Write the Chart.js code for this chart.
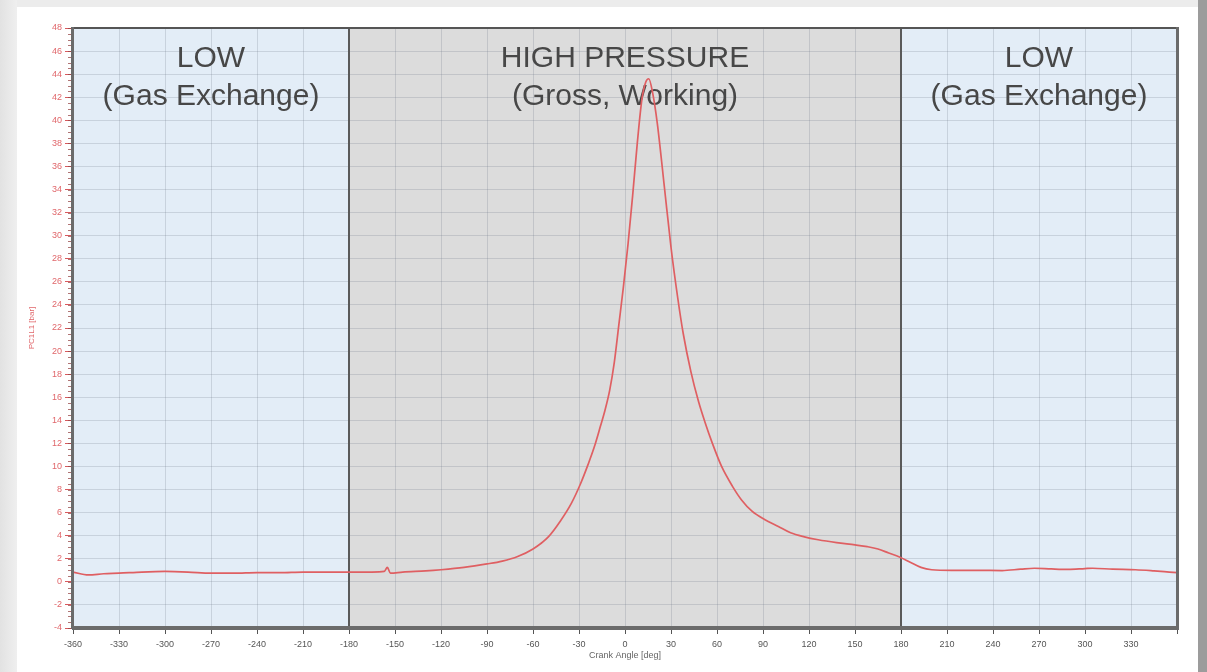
<!DOCTYPE html>
<html>
<head>
<meta charset="utf-8">
<script src="https://cdn.jsdelivr.net/npm/chart.js@4.4.1/dist/chart.umd.min.js"></script>
<style>
  html, body { margin: 0; padding: 0; width: 1207px; height: 672px; overflow: hidden; background: #ececec; }
  #leftstrip { position: absolute; left: 0; top: 0; width: 17px; height: 672px; background: linear-gradient(to right, #e2e2e2, #efefef); }
  #card { position: absolute; left: 17px; top: 7px; width: 1181px; height: 665px; background: #ffffff; }
  #rightstrip { position: absolute; left: 1198px; top: 0; width: 9px; height: 672px; background: #9c9c9c; }
  #wrap { position: absolute; left: 0; top: 0; width: 1207px; height: 672px; }
</style>
</head>
<body>
<div id="leftstrip"></div>
<div id="card"></div>
<div id="rightstrip"></div>
<div id="wrap"><canvas id="c" width="1207" height="672"></canvas></div>
<script>
// ---- data ----
const angles = [-360, -350, -340, -330, -315, -300, -285, -270, -255, -240, -225, -210, -195, -180,
  -165, -157, -155, -153, -145, -130, -120, -105, -90, -80, -70, -60, -50, -42, -35, -29, -24, -20,
  -16, -13, -10, -7, -4, -1, 2, 5, 8, 11, 13.5, 15.5, 18, 21, 25.7, 30, 34.4, 38, 43, 48, 52, 57, 63, 70, 76,
  83, 91, 100, 108, 117, 126, 138, 150, 158, 165, 172, 179, 186, 193, 200, 213, 230, 246, 258, 267,
  278, 289, 300, 305, 318, 333, 345, 355, 360];
const pressures = [0.85, 0.6, 0.7, 0.75, 0.85, 0.9, 0.85, 0.75, 0.75, 0.8, 0.8, 0.85, 0.85, 0.85,
  0.85, 0.9, 1.25, 0.75, 0.85, 0.95, 1.05, 1.25, 1.55, 1.8, 2.2, 2.85, 3.9, 5.3, 6.8, 8.5, 10.2, 11.7,
  13.5, 14.9, 16.6, 19.0, 22.3, 25.6, 29.3, 33.5, 38.0, 41.8, 43.3, 43.6, 42.4, 39.8, 34.2, 29.0, 24.6,
  21.5, 18.2, 15.6, 13.9, 12.0, 10.0, 8.3, 7.1, 6.1, 5.4, 4.8, 4.25, 3.9, 3.65, 3.4, 3.2, 3.05, 2.85,
  2.5, 2.15, 1.7, 1.25, 1.05, 1.0, 1.0, 0.98, 1.1, 1.18, 1.12, 1.08, 1.15, 1.18, 1.1, 1.05, 0.95, 0.85, 0.8];

const regionFrom = [-360, -180, 180];
const regionTo = [-180, 180, 360];
const regionLine1 = ['LOW', 'HIGH PRESSURE', 'LOW'];
const regionLine2 = ['(Gas Exchange)', '(Gross, Working)', '(Gas Exchange)'];
const regionColors = ['#e3edf7', '#dcdcdc', '#e3edf7'];

const xMin = -360, xMax = 360, xStep = 30;
const yMin = -4, yMax = 48, yStep = 2;
const seriesLabel = 'PC1L1 [bar]';
const xTitle = 'Crank Angle [deg]';

const points = angles.map((a, i) => ({ x: a, y: pressures[i] }));

const regionsPlugin = {
  id: 'regions',
  beforeDraw(chart) {
    const { ctx, chartArea: ca, scales: { x } } = chart;
    ctx.save();
    regionFrom.forEach((f, i) => {
      const x0 = x.getPixelForValue(f), x1 = x.getPixelForValue(regionTo[i]);
      ctx.fillStyle = regionColors[i];
      ctx.fillRect(x0, ca.top, x1 - x0, ca.bottom - ca.top);
    });
    ctx.restore();
  },
  beforeDatasetsDraw(chart) {
    const { ctx, chartArea: ca, scales: { x } } = chart;
    ctx.save();
    ctx.strokeStyle = '#5a5a5a';
    ctx.lineWidth = 2;
    regionFrom.slice(1).forEach(f => {
      const px = x.getPixelForValue(f);
      ctx.beginPath(); ctx.moveTo(px, ca.top); ctx.lineTo(px, ca.bottom); ctx.stroke();
    });
    ctx.fillStyle = '#474747';
    ctx.textAlign = 'center';
    ctx.textBaseline = 'alphabetic';
    ctx.font = '30px "Liberation Sans", Arial, sans-serif';
    regionFrom.forEach((f, i) => {
      const cx = x.getPixelForValue((f + regionTo[i]) / 2);
      ctx.fillText(regionLine1[i], cx, ca.top + 39);
      ctx.fillText(regionLine2[i], cx, ca.top + 77);
    });
    ctx.restore();
  },
  afterDraw(chart) {
    const { ctx, chartArea: ca, scales: { y } } = chart;
    ctx.save();
    ctx.strokeStyle = 'rgba(150,70,70,0.75)';
    ctx.lineWidth = 1;
    for (let v = yMin; v <= yMax + 1e-9; v += 0.5) {
      const py = Math.round(y.getPixelForValue(v)) + 0.5;
      ctx.beginPath(); ctx.moveTo(ca.left - 5, py); ctx.lineTo(ca.left, py); ctx.stroke();
    }
    ctx.strokeStyle = '#555555';
    ctx.lineWidth = 2;
    ctx.strokeRect(ca.left, ca.top, ca.right - ca.left, ca.bottom - ca.top);
    ctx.fillStyle = '#6b6b6b';
    ctx.fillRect(ca.left - 1, ca.bottom - 2, ca.right - ca.left + 2, 4);
    ctx.fillRect(ca.left - 2, ca.top - 1, 3, ca.bottom - ca.top + 2);
    ctx.fillRect(ca.right - 1, ca.top - 1, 3, ca.bottom - ca.top + 3);
    ctx.restore();
  }
};

new Chart(document.getElementById('c'), {
  type: 'line',
  data: {
    datasets: [{
      label: seriesLabel,
      data: points,
      borderColor: '#df5f62',
      borderWidth: 1.7,
      pointRadius: 0,
      fill: false,
      cubicInterpolationMode: 'monotone'
    }]
  },
  options: {
    responsive: false,
    animation: false,
    events: [],
    layout: { padding: { left: 0, right: 30, top: 28, bottom: 0 } },
    plugins: { legend: { display: false }, tooltip: { enabled: false } },
    scales: {
      x: {
        type: 'linear',
        min: xMin, max: xMax,
        afterFit(s) { s.height = 44; },
        ticks: {
          stepSize: xStep,
          autoSkip: false,
          maxRotation: 0,
          padding: 5,
          color: '#555555',
          font: { family: '"Liberation Sans", Arial, sans-serif', size: 9 },
          callback: v => (v === xMax ? '' : v)
        },
        grid: { color: 'rgba(105,115,130,0.22)', tickColor: '#555555', tickLength: 6, lineWidth: 1 },
        border: { display: false },
        title: {
          display: true, text: xTitle, color: '#666666',
          font: { family: '"Liberation Sans", Arial, sans-serif', size: 9 },
          padding: { top: 0, bottom: 11 }
        }
      },
      y: {
        type: 'linear',
        min: yMin, max: yMax,
        afterFit(s) { s.width = 73; },
        ticks: {
          stepSize: yStep,
          padding: 3,
          color: '#e0676b',
          font: { family: '"Liberation Sans", Arial, sans-serif', size: 9 }
        },
        grid: { color: 'rgba(105,115,130,0.22)', tickColor: '#d85a5e', tickLength: 8, lineWidth: 1 },
        border: { display: false },
        title: {
          display: true, text: seriesLabel, color: '#e0676b',
          font: { family: '"Liberation Sans", Arial, sans-serif', size: 8 },
          padding: { top: 27, bottom: 0 }
        }
      }
    }
  },
  plugins: [regionsPlugin]
});
</script>
</body>
</html>
